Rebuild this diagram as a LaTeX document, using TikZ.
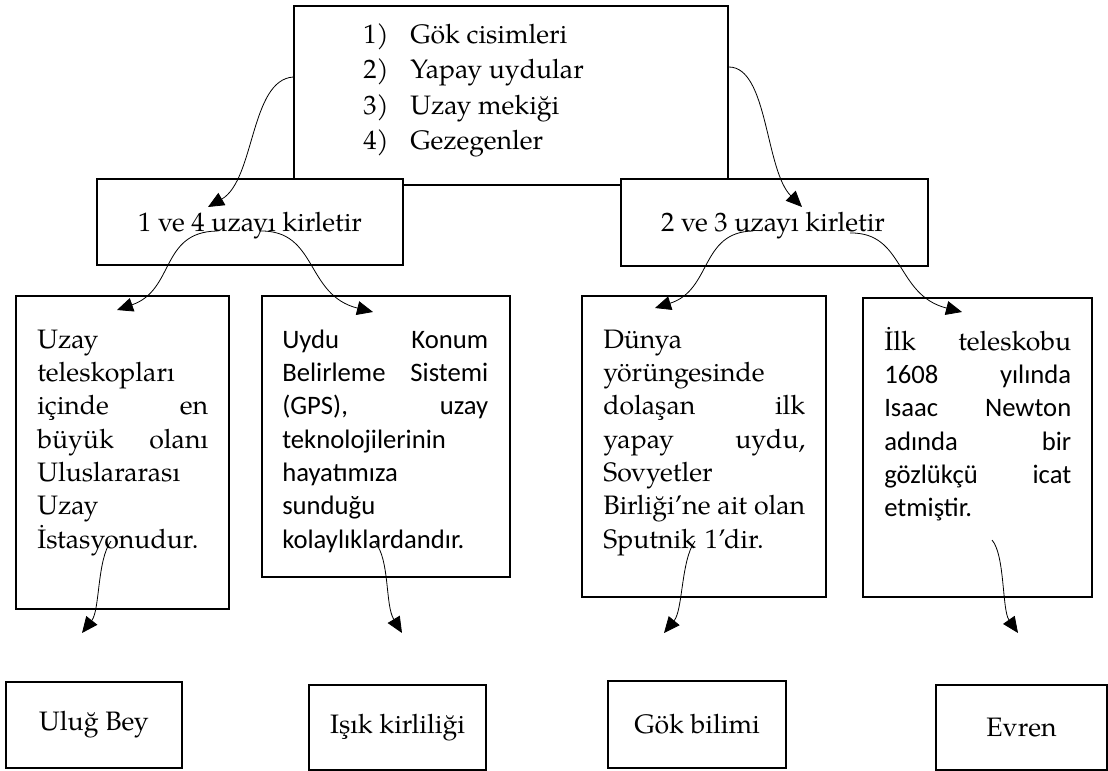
\documentclass[tikz,border=0pt]{standalone}
\usepackage{fontspec}
\setmainfont{texgyrepagella}[Extension=.otf,UprightFont=*-regular,BoldFont=*-bold,ItalicFont=*-italic,BoldItalicFont=*-bolditalic]
\newfontfamily\calib{Carlito}
\usetikzlibrary{arrows.meta}
\begin{document}
\begin{tikzpicture}[x=0.75pt,y=-0.75pt,
  box/.style={draw,line width=1.2pt,fill=white,inner sep=0pt},
  conn/.style={line width=0.6pt,-{Triangle[length=12pt,width=10.5pt]}},
  txt/.style={font=\fontsize{20}{25}\selectfont,inner sep=0pt},
  ctxt/.style={font=\calib\fontsize{20}{25}\selectfont,inner sep=0pt},
  para/.style={anchor=base west,align=left}]
\useasboundingbox (0,0) rectangle (1108,771);

% top box with list
\node[box,minimum width=325.5pt,minimum height=134.25pt] (top) at (511,95.5) {};
\node[txt,anchor=base west] (n1) at (363,43) {1)};
\node[txt,anchor=base west] (i1) at (410,43) {Gök cisimleri};
\node[txt,anchor=base west] (n2) at (363,78.5) {2)};
\node[txt,anchor=base west] (i2) at (410,78.5) {Yapay uydular};
\node[txt,anchor=base west] (n3) at (363,114) {3)};
\node[txt,anchor=base west] (i3) at (410,114) {Uzay mekiği};
\node[txt,anchor=base west] (n4) at (363,149) {4)};
\node[txt,anchor=base west] (i4) at (410,149) {Gezegenler};

% level 2
\node[box,minimum width=229.5pt,minimum height=64.5pt] (l2a) at (250,222) {};
\node[txt,anchor=base] (l2at) at (250,231) {1 ve 4 uzayı kirletir};
\node[box,minimum width=230.25pt,minimum height=65.25pt] (l2b) at (774.5,222.5) {};
\node[txt,anchor=base] (l2bt) at (773,231) {2 ve 3 uzayı kirletir};

% level 3
\node[box,minimum width=159.75pt,minimum height=234.75pt] (b1) at (122.5,452.5) {};
\node[txt,para,text width=128.25pt] (t1) at (37,348)
  {Uzay\\teleskopları\\içinde\hfill en\\büyük\hfill olanı\\Uluslararası\\Uzay\\İstasyonudur.};
\node[box,minimum width=186pt,minimum height=210.75pt] (b2) at (386,436.5) {};
\node[ctxt,para,text width=154.5pt] (t2) at (282,348)
  {Uydu\hfill Konum\\Belirleme\hfill Sistemi\\(GPS),\hfill uzay\\teknolojilerinin\\hayatımıza\\sunduğu\\kolaylıklardandır.};
\node[box,minimum width=183pt,minimum height=225.75pt] (b3) at (704,446.5) {};
\node[txt,para,text width=151.5pt] (t3) at (603,348)
  {Dünya\\yörüngesinde\\dolaşan\hfill ilk\\yapay\hfill uydu,\\Sovyetler\\Birliği’ne\hfill ait\hfill olan\\Sputnik 1’dir.};
\node[box,minimum width=171.75pt,minimum height=224.25pt] (b4) at (977.5,447.5) {};
\node[txt,para,text width=140.25pt] (t4) at (884,350)
  {İlk\hfill teleskobu\\{\calib 1608\hfill yılında}\\{\calib Isaac\hfill Newton}\\{\calib adında\hfill bir}\\{\calib gözlükçü\hfill icat}\\{\calib etmiştir.}};

% bottom boxes
\node[box,txt,minimum width=132pt,minimum height=64.5pt] (c1) at (94,725) {Uluğ Bey};
\node[box,txt,minimum width=132.75pt,minimum height=63.75pt] (c2) at (397.5,727.5) {Işık kirliliği};
\node[box,txt,minimum width=133.5pt,minimum height=65.25pt] (c3) at (697,724.5) {Gök bilimi};
\node[box,txt,minimum width=128.25pt,minimum height=63.75pt] (c4) at (1021.5,727.5) {Evren};

% connector end points
\coordinate (s1) at ([shift={(0,-18.5)}]top.west);
\coordinate (e1) at (208,207);
\coordinate (s2) at ([shift={(0,-28.5)}]top.east);
\coordinate (e2) at (802,207);
\coordinate (s3) at ([shift={(-33,9)}]l2a.center);
\coordinate (e3) at (117,310);
\coordinate (s4) at ([shift={(10,9)}]l2a.center);
\coordinate (e4) at (373,312);
\coordinate (s5) at ([shift={(-21.5,8.5)}]l2b.center);
\coordinate (e5) at (655,308);
\coordinate (s6) at ([shift={(75.5,10.5)}]l2b.center);
\coordinate (e6) at (962,312);
\coordinate (s7) at ([shift={(-11.5,88.5)}]b1.center);
\coordinate (e7) at (82,633);
\coordinate (s8) at ([shift={(-11,105.5)}]b2.center);
\coordinate (e8) at (402,633);
\coordinate (s9) at ([shift={(-9,94.5)}]b3.center);
\coordinate (e9) at (664,633);
\coordinate (s10) at ([shift={(14.5,92.5)}]b4.center);
\coordinate (e10) at (1018,633);

% connectors
\draw[conn] (s1) .. controls (250,80) and (255,180) .. (e1);
\draw[conn] (s2) .. controls (768,67) and (765,170) .. (e2);
\draw[conn] (s3) .. controls (160,232) and (175,290) .. (e3);
\draw[conn] (s4) .. controls (318,230) and (305,295) .. (e4);
\draw[conn] (s5) .. controls (700,232) and (712,290) .. (e5);
\draw[conn] (s6) .. controls (905,232) and (895,295) .. (e6);
\draw[conn] (s7) .. controls (97,560) and (100,610) .. (e7);
\draw[conn] (s8) .. controls (390,560) and (385,605) .. (e8);
\draw[conn] (s9) .. controls (681,560) and (683,610) .. (e9);
\draw[conn] (s10) .. controls (1005,555) and (1002,610) .. (e10);
\end{tikzpicture}
\end{document}
